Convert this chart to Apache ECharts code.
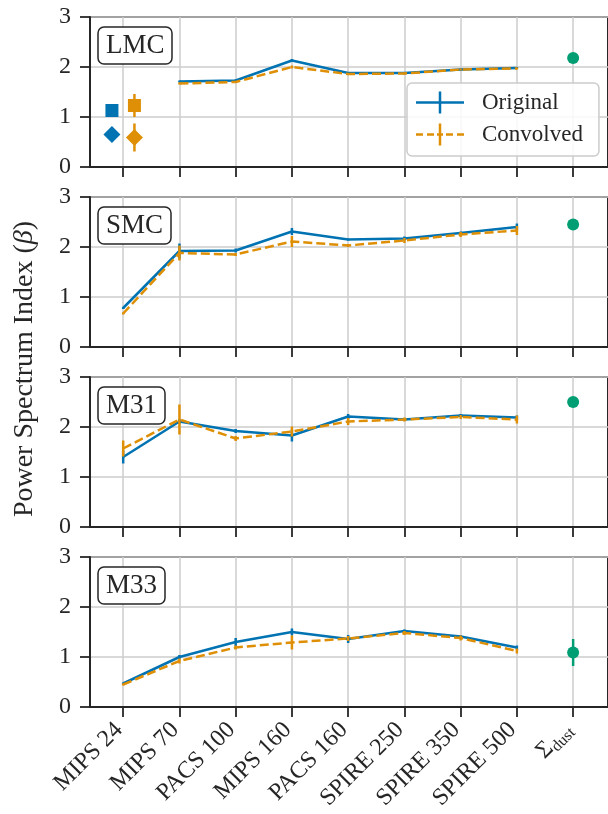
<!DOCTYPE html>
<html><head><meta charset="utf-8">
<script src="https://cdn.jsdelivr.net/npm/echarts@6/dist/echarts.min.js"></script>
<style>html,body{margin:0;padding:0;background:#fff}#c{width:608px;height:814px}</style>
</head><body><div id="c"></div>
<script>
// ---- data ----
const categories = ['MIPS 24','MIPS 70','PACS 100','MIPS 160','PACS 160','SPIRE 250','SPIRE 350','SPIRE 500','Σdust'];
const panelNames = ['LMC','SMC','M31','M33'];
const yTicks = [0, 1, 2, 3];

const lmcOriginal    = [null, 1.71, 1.73, 2.13, 1.88, 1.88, 1.95, 1.98];
const lmcOriginalErr = [null, 0.02, 0.02, 0.03, 0.02, 0.02, 0.02, 0.02];
const lmcConvolved   = [null, 1.67, 1.70, 2.00, 1.86, 1.87, 1.95, 1.97];
const lmcConvolvedErr= [null, 0.02, 0.02, 0.03, 0.02, 0.02, 0.02, 0.02];
const lmcDust = [2.18, 0.02];
// LMC MIPS 24 split points: [offset, value, error]
const lmcBlueSquare   = [-0.2, 1.13, 0.03];
const lmcBlueDiamond  = [-0.2, 0.65, 0.03];
const lmcOrangeSquare = [0.2, 1.23, 0.23];
const lmcOrangeDiamond= [0.2, 0.59, 0.28];

const smcOriginal    = [0.78, 1.92, 1.93, 2.31, 2.15, 2.17, 2.28, 2.40];
const smcOriginalErr = [0.02, 0.15, 0.04, 0.07, 0.02, 0.04, 0.03, 0.07];
const smcConvolved   = [0.67, 1.88, 1.85, 2.11, 2.03, 2.13, 2.25, 2.33];
const smcConvolvedErr= [0.02, 0.15, 0.03, 0.11, 0.03, 0.05, 0.05, 0.09];
const smcDust = [2.45, 0.08];

const m31Original    = [1.40, 2.11, 1.92, 1.83, 2.21, 2.15, 2.23, 2.19];
const m31OriginalErr = [0.13, 0.05, 0.04, 0.12, 0.05, 0.03, 0.03, 0.04];
const m31Convolved   = [1.57, 2.15, 1.77, 1.91, 2.11, 2.15, 2.20, 2.15];
const m31ConvolvedErr= [0.16, 0.30, 0.05, 0.10, 0.07, 0.04, 0.04, 0.08];
const m31Dust = [2.50, 0.02];

const m33Original    = [0.47, 1.00, 1.30, 1.50, 1.36, 1.52, 1.41, 1.19];
const m33OriginalErr = [0.02, 0.04, 0.08, 0.07, 0.08, 0.03, 0.03, 0.04];
const m33Convolved   = [0.45, 0.92, 1.19, 1.29, 1.37, 1.48, 1.38, 1.12];
const m33ConvolvedErr= [0.02, 0.05, 0.04, 0.14, 0.05, 0.04, 0.05, 0.05];
const m33Dust = [1.09, 0.27];

const panelData = [
  {orig: lmcOriginal, origErr: lmcOriginalErr, conv: lmcConvolved, convErr: lmcConvolvedErr, dust: lmcDust},
  {orig: smcOriginal, origErr: smcOriginalErr, conv: smcConvolved, convErr: smcConvolvedErr, dust: smcDust},
  {orig: m31Original, origErr: m31OriginalErr, conv: m31Convolved, convErr: m31ConvolvedErr, dust: m31Dust},
  {orig: m33Original, origErr: m33OriginalErr, conv: m33Convolved, convErr: m33ConvolvedErr, dust: m33Dust}
];

// ---- style ----
const BLUE = '#0173b2', ORANGE = '#de8f05', GREEN = '#029e73', INK = '#262626', GRIDC = '#cccccc';
const FONT = '"Liberation Serif", "DejaVu Serif", serif';
const tickIdx = categories.map((c, i) => i);

function errRender(color) {
  return function (params, api) {
    const x = api.value(0), y = api.value(1), e = api.value(2);
    const p1 = api.coord([x, y - e]), p2 = api.coord([x, y + e]);
    return {type: 'line', shape: {x1: p1[0], y1: p1[1], x2: p2[0], y2: p2[1]},
            style: {stroke: color, lineWidth: 2.5}};
  };
}
function pts(vals) { const r = []; vals.forEach((v, i) => { if (v != null) r.push([i, v]); }); return r; }
function errPts(vals, errs) { const r = []; vals.forEach((v, i) => { if (v != null) r.push([i, v, errs[i]]); }); return r; }

const grids = [], xAxes = [], yAxes = [], series = [], titles = [];
panelNames.forEach((name, p) => {
  const top = 17 + 180 * p;
  grids.push({left: 90, top: top, width: 521, height: 150, show: true, borderColor: INK, borderWidth: 2, backgroundColor: 'transparent'});
  xAxes.push({
    type: 'value', gridIndex: p, min: -0.59, max: 8.62,
    axisLine: {show: true, onZero: false, lineStyle: {color: INK, width: 2}},
    axisTick: {show: true, customValues: tickIdx, length: 10, lineStyle: {color: INK, width: 1.8}},
    splitLine: {show: true, lineStyle: {color: GRIDC, width: 1.5}},
    axisLabel: {
      show: p === 3, customValues: tickIdx, rotate: 45, margin: 15,
      fontFamily: FONT, fontSize: 24, color: INK, padding: [0, 6, 0, 0],
      formatter: v => { const c = categories[Math.round(v)]; return c === 'Σdust' ? '{s|Σ}{d|dust}' : c; },
      rich: {s: {fontFamily: FONT, fontSize: 24, color: INK}, d: {fontFamily: FONT, fontSize: 16, color: INK, padding: [12, 0, 0, 0]}}
    }
  });
  yAxes.push({
    type: 'value', gridIndex: p, min: yTicks[0], max: yTicks[yTicks.length - 1], interval: 1,
    axisLine: {show: true, onZero: false, lineStyle: {color: INK, width: 2}},
    axisTick: {show: true, length: 10, lineStyle: {color: INK, width: 1.8}},
    splitLine: {show: true, lineStyle: {color: GRIDC, width: 1.5}},
    axisLabel: {margin: 19, fontFamily: FONT, fontSize: 24, color: INK}
  });
  titles.push({text: name, left: 98, top: top + 10, padding: [5, 8], borderColor: INK, borderWidth: 1.5, borderRadius: 6,
    backgroundColor: '#fff', textStyle: {fontFamily: FONT, fontSize: 27, fontWeight: 'normal', color: INK, lineHeight: 27}});

  const d = panelData[p];
  series.push({name: 'Original', type: 'line', xAxisIndex: p, yAxisIndex: p, data: pts(d.orig), symbol: 'none',
    lineStyle: {color: BLUE, width: 2.5}, itemStyle: {color: BLUE}, z: 3});
  series.push({name: 'Original', type: 'custom', xAxisIndex: p, yAxisIndex: p, data: errPts(d.orig, d.origErr),
    encode: {x: 0, y: 1}, renderItem: errRender(BLUE), itemStyle: {color: BLUE}, z: 3});
  series.push({name: 'Convolved', type: 'line', xAxisIndex: p, yAxisIndex: p, data: pts(d.conv), symbol: 'none',
    lineStyle: {color: ORANGE, width: 2.5, type: [9, 4]}, itemStyle: {color: ORANGE}, z: 4});
  series.push({name: 'Convolved', type: 'custom', xAxisIndex: p, yAxisIndex: p, data: errPts(d.conv, d.convErr),
    encode: {x: 0, y: 1}, renderItem: errRender(ORANGE), itemStyle: {color: ORANGE}, z: 4});
  series.push({name: 'dust', type: 'custom', xAxisIndex: p, yAxisIndex: p, data: [[8, d.dust[0], d.dust[1]]],
    encode: {x: 0, y: 1}, renderItem: errRender(GREEN), z: 5});
  series.push({name: 'dust', type: 'scatter', xAxisIndex: p, yAxisIndex: p, data: [[8, d.dust[0]]],
    symbol: 'circle', symbolSize: 12, itemStyle: {color: GREEN, opacity: 1}, z: 5});
});

// LMC split markers at MIPS 24
[[lmcBlueSquare, BLUE, 'rect', 13], [lmcBlueDiamond, BLUE, 'diamond', 17],
 [lmcOrangeSquare, ORANGE, 'rect', 13], [lmcOrangeDiamond, ORANGE, 'diamond', 17]].forEach(([pt, col, sym, sz]) => {
  series.push({name: 'split', type: 'custom', xAxisIndex: 0, yAxisIndex: 0, data: [[pt[0], pt[1], pt[2]]],
    encode: {x: 0, y: 1}, renderItem: errRender(col), z: 5});
  series.push({name: 'split', type: 'scatter', xAxisIndex: 0, yAxisIndex: 0, data: [[pt[0], pt[1]]],
    symbol: sym, symbolSize: sz, itemStyle: {color: col, opacity: 1}, z: 5});
});

const iconOriginal = 'path://M0,9.75H48V12.25H0Z M22.75,0H25.25V22H22.75Z';
const iconConvolved = 'path://M0,9.75H7V12.25H0Z M11,9.75H18V12.25H11Z M21,9.75H27V12.25H21Z M30,9.75H37V12.25H30Z M41,9.75H48V12.25H41Z M22.75,0H25.25V22H22.75Z';

const chart = echarts.init(document.getElementById('c'), null, {renderer: 'canvas'});
chart.setOption({
  animation: false,
  backgroundColor: '#fff',
  title: titles,
  grid: grids, xAxis: xAxes, yAxis: yAxes, series: series,
  legend: {
    orient: 'vertical', left: 407, top: 83, padding: [8, 16, 10, 9], itemGap: 9,
    itemWidth: 48, itemHeight: 22, backgroundColor: 'rgba(255,255,255,0.85)',
    borderColor: GRIDC, borderWidth: 1.5, borderRadius: 5, z: 10,
    itemStyle: {borderWidth: 0},
    textStyle: {fontFamily: FONT, fontSize: 23, color: INK, padding: [0, 0, 0, 13]},
    data: [{name: 'Original', icon: iconOriginal, itemStyle: {color: BLUE}}, {name: 'Convolved', icon: iconConvolved, itemStyle: {color: ORANGE}}]
  },
  graphic: [{
    type: 'text', x: 25, y: 369, rotation: Math.PI / 2,
    style: {text: 'Power Spectrum Index ({b|β})', fontFamily: FONT, fontSize: 28, fill: INK, align: 'center', verticalAlign: 'middle',
      rich: {b: {fontFamily: FONT, fontSize: 28, fontStyle: 'italic', fill: INK}}}
  }]
});
</script></body></html>
